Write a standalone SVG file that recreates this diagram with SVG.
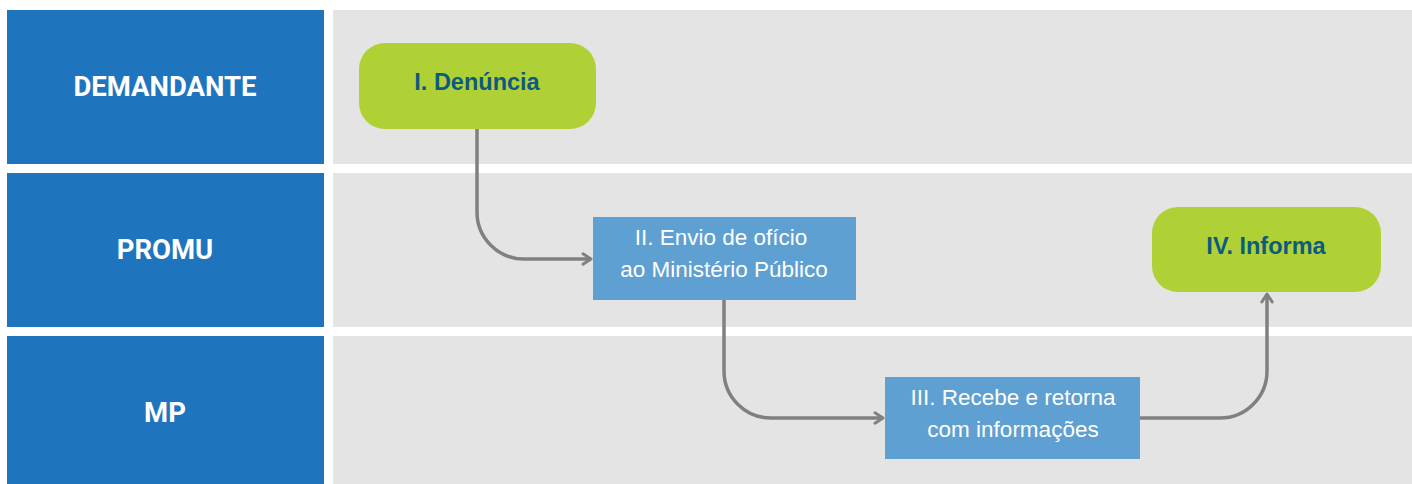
<svg xmlns="http://www.w3.org/2000/svg" width="1412" height="484" viewBox="0 0 1412 484">
<defs>
<style>
.hdr{fill:#1f75bd}
.lane{fill:#e4e4e4}
.htxt{font-family:Roboto,"Liberation Sans",sans-serif;font-weight:bold;font-size:27.5px;fill:#ffffff;text-anchor:middle}
.term{fill:#b0d136}
.ttxt{font-family:"Liberation Sans",Arial,sans-serif;font-weight:bold;font-size:23.5px;fill:#0d5a80;text-anchor:middle}
.proc{fill:#5fa0d3}
.ptxt{font-family:"Liberation Sans",Arial,sans-serif;font-size:22.5px;fill:#ffffff;text-anchor:middle}
.conn{fill:none;stroke:#808080;stroke-width:3.5}
</style>
<marker id="arr" viewBox="0 0 14 14" refX="12" refY="7" markerWidth="14" markerHeight="14" markerUnits="userSpaceOnUse" orient="auto">
<path d="M4,1.8 L12,7 L4,12.2" fill="none" stroke="#808080" stroke-width="3" stroke-linecap="round" stroke-linejoin="round"/>
</marker>
</defs>
<rect width="1412" height="484" fill="#ffffff"/>
<g id="lane-demandante">
<rect class="hdr" x="7" y="10" width="317" height="154"/>
<rect class="lane" x="333" y="10" width="1079" height="154"/>
<text class="htxt" x="165" y="96">DEMANDANTE</text>
</g>
<g id="lane-promu">
<rect class="hdr" x="7" y="173" width="317" height="154"/>
<rect class="lane" x="333" y="173" width="1079" height="154"/>
<text class="htxt" x="165" y="259">PROMU</text>
</g>
<g id="lane-mp">
<rect class="hdr" x="7" y="336" width="317" height="148"/>
<rect class="lane" x="333" y="336" width="1079" height="148"/>
<text class="htxt" x="165" y="422">MP</text>
</g>
<g id="connectors">
<path class="conn" d="M477,129 V212 A47,47 0 0 0 524,259 H591" marker-end="url(#arr)"/>
<path class="conn" d="M724,300 V371 A47,47 0 0 0 771,418 H883" marker-end="url(#arr)"/>
<path class="conn" d="M1140,418 H1220 A47,47 0 0 0 1267,371 V294" marker-end="url(#arr)"/>
</g>
<g id="node-denuncia">
<rect class="term" x="359" y="43" width="237" height="86" rx="26"/>
<text class="ttxt" x="477" y="90">I. Denúncia</text>
</g>
<g id="node-envio">
<rect class="proc" x="593" y="217" width="263" height="83"/>
<text class="ptxt" x="721" y="245">II. Envio de ofício</text>
<text class="ptxt" x="724" y="277">ao Ministério Público</text>
</g>
<g id="node-recebe">
<rect class="proc" x="885" y="377" width="255" height="82"/>
<text class="ptxt" x="1013" y="405">III. Recebe e retorna</text>
<text class="ptxt" x="1013" y="437">com informações</text>
</g>
<g id="node-informa">
<rect class="term" x="1152" y="207" width="229" height="85" rx="26"/>
<text class="ttxt" x="1266" y="254">IV. Informa</text>
</g>
</svg>
